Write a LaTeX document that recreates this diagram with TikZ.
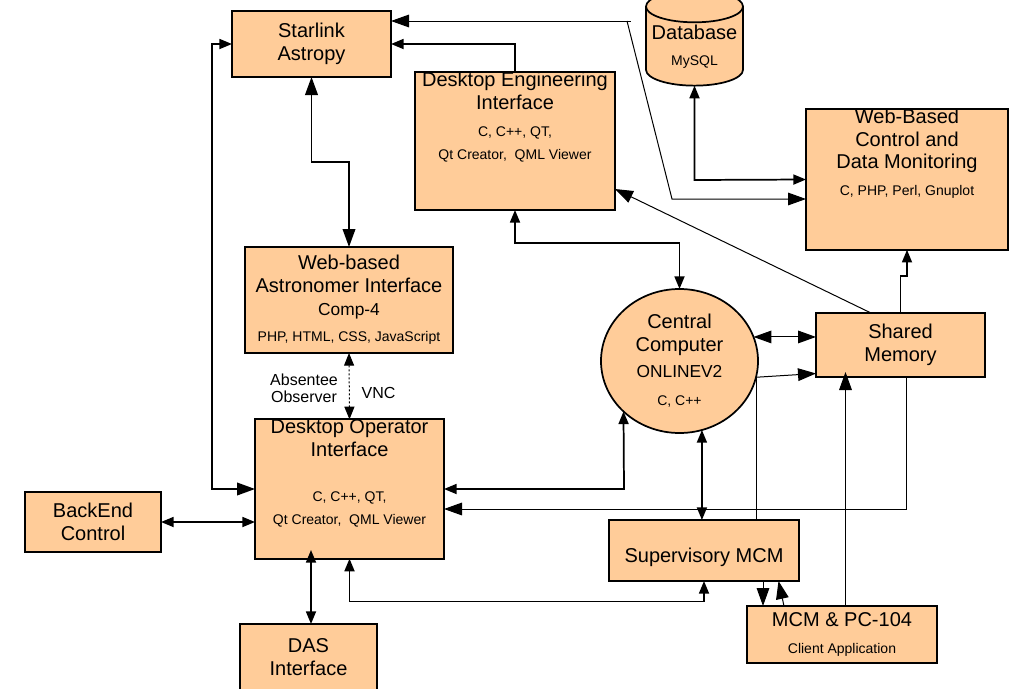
\documentclass[tikz,border=0pt]{standalone}
\usepackage{fontspec}
\usepackage{tikz}
\usetikzlibrary{arrows.meta,shapes.geometric}
\setmainfont{Liberation Sans}
\newcommand{\detailfont}{\fontsize{10.5}{12.5}\selectfont}
\newcommand{\midfont}{\fontsize{13}{15}\selectfont}

\begin{document}
\begin{tikzpicture}
  [x=0.75pt, y=-0.75pt,
   tipS/.tip={Triangle[length=9.5pt, width=7.5pt]},
   tipM/.tip={Triangle[length=13.5pt, width=9.5pt]},
   block/.style={draw, line width=1.3pt, fill=boxfill, align=center, inner sep=0pt, outer sep=0pt,
     font=\fontsize{15}{16.9}\selectfont},
   size/.style 2 args={minimum width=#1*0.75pt, minimum height=#2*0.75pt},
   wire/.style={line width=1.3pt},
   thin wire/.style={line width=0.75pt}]
  \definecolor{boxfill}{HTML}{FFCC99}
  \definecolor{capfill}{HTML}{FFDDBB}
  \useasboundingbox (0, 0) rectangle (1025, 689);

  \node[block, size={159}{66}] (starlink) at (311.5, 44) {Starlink\\Astropy};
  \node[block, size={200}{112}] (engineer) at (515, 141)
    {Desktop Engineering\\Interface\\[4pt]\detailfont C, C++, QT,\\\detailfont Qt Creator,\ \ QML Viewer\\[21pt]\detailfont~};
  \node[block, size={208}{106}] (astro) at (349, 300)
    {Web-based\\Astronomer Interface\\\midfont Comp-4\\[3pt]\detailfont PHP, HTML, CSS, JavaScript};
  \node[block, size={189}{122}] (operator) at (349.5, 489)
    {Desktop Operator\\Interface\\[17pt]\detailfont C, C++, QT,\\\detailfont Qt Creator,\ \ QML Viewer\\[9pt]\detailfont~};
  \node[block, size={136}{60}] (backend) at (93, 522) {BackEnd\\Control};
  \node[block, size={137}{66}] (das) at (308.5, 657) {DAS\\Interface};
  \node[block, size={190}{61}] (supervisor) at (704, 550.5) {~\\[4pt]Supervisory MCM\hspace{8pt}};
  \node[block, size={190}{57}] (client) at (842, 634.5)
    {MCM \& PC-104\\[3pt]\detailfont Client Application};
  \node[block, size={169}{64}] (shared) at (900.5, 345) {Shared\\Memory};
  \node[block, size={202}{119}] (monitor) at (907, 179.5)
    {Web-Based\\Control and\\Data Monitoring\\[3pt]\detailfont C, PHP, Perl, Gnuplot\\[24pt]\detailfont~};
  \node[block, ellipse, size={157}{144}] (central) at (679.5, 361)
    {Central\\Computer\\[3pt]\midfont ONLINEV2\\[4pt]\detailfont C, C++};
  \node[block, cylinder, shape border rotate=90, shape aspect=0.37, cylinder uses custom fill,
    cylinder body fill=boxfill, cylinder end fill=capfill,
    size={97}{95}] (dbase) at (694.5, 46.5) {Database\\[3pt]\detailfont MySQL};

  \coordinate (bend) at (627, 21);

  \draw[thin wire, tipM-] (starlink.east |- bend) -- (631, 21);
  \draw[thin wire, -tipM] (bend) -- (672, 199) -- (monitor.west |- 0, 199);
  \draw[wire, -tipS] (engineer.north) -- (515, 44) -- (starlink.east);
  \draw[wire, tipS-tipM] (starlink.west) -- (212, 44) -- (212, 489) -- (operator.west);
  \draw[wire, tipM-tipM] (starlink.south) -- (311.5, 162) -- (349, 162) -- (astro.north);
  \draw[thin wire, dash pattern=on 1.5pt off 1.5pt, tipS-tipS] (astro.south) -- (operator.north);
  \draw[wire, tipS-tipS] (engineer.south) -- (515, 243) -- (679.5, 243) -- (central.north);
  \draw[thin wire, -tipM] (871, 313) -- (engineer.south east |- 0, 189);
  \draw[wire, -tipS] (shared.north) -- (900.5, 276) -- (907, 276) -- (monitor.south);
  \draw[wire, tipS-tipS] (dbase.south) -- (694.5, 180) -- (monitor.west);
  \draw[thin wire, tipM-tipM] (central.18) -- (shared.west |- central.18);
  \draw[thin wire, -tipM] (central.-12) -- (shared.west |- 0, 373.5);
  \draw[thin wire] (central.-10) -- (central.-10 |- supervisor.north);
  \draw[thin wire, -tipM] (906.5, 377) -- (906.5, 509) -- (operator.east |- 0, 509);
  \draw[wire, tipS-tipS] (operator.east) -- (624, 489) -- (central.222.6);
  \draw[wire, tipS-tipS] (central.288) -- (central.288 |- supervisor.north);
  \draw[wire, tipS-tipS] (operator.south) -- (349.5, 601.5) -- (704, 601.5) -- (supervisor.south);
  \draw[wire, tipS-tipS] (311, 550) -- (311, 624);
  \draw[wire, tipS-tipS] (backend.east) -- (operator.west |- backend.east);
  \draw[thin wire, -tipM] (763, 581) -- (763, 606);
  \draw[thin wire, -tipM] (784, 606) -- (778.5, 581);
  \draw[thin wire, -tipM] (845.5, 606) -- (845.5, 372);

  \node[align=center, font=\fontsize{12}{13}\selectfont] (absent) at (304, 388) {Absentee\\Observer};
  \node[font=\fontsize{12}{13}\selectfont] (vnc) at (378.5, 393) {VNC};
\end{tikzpicture}
\end{document}
